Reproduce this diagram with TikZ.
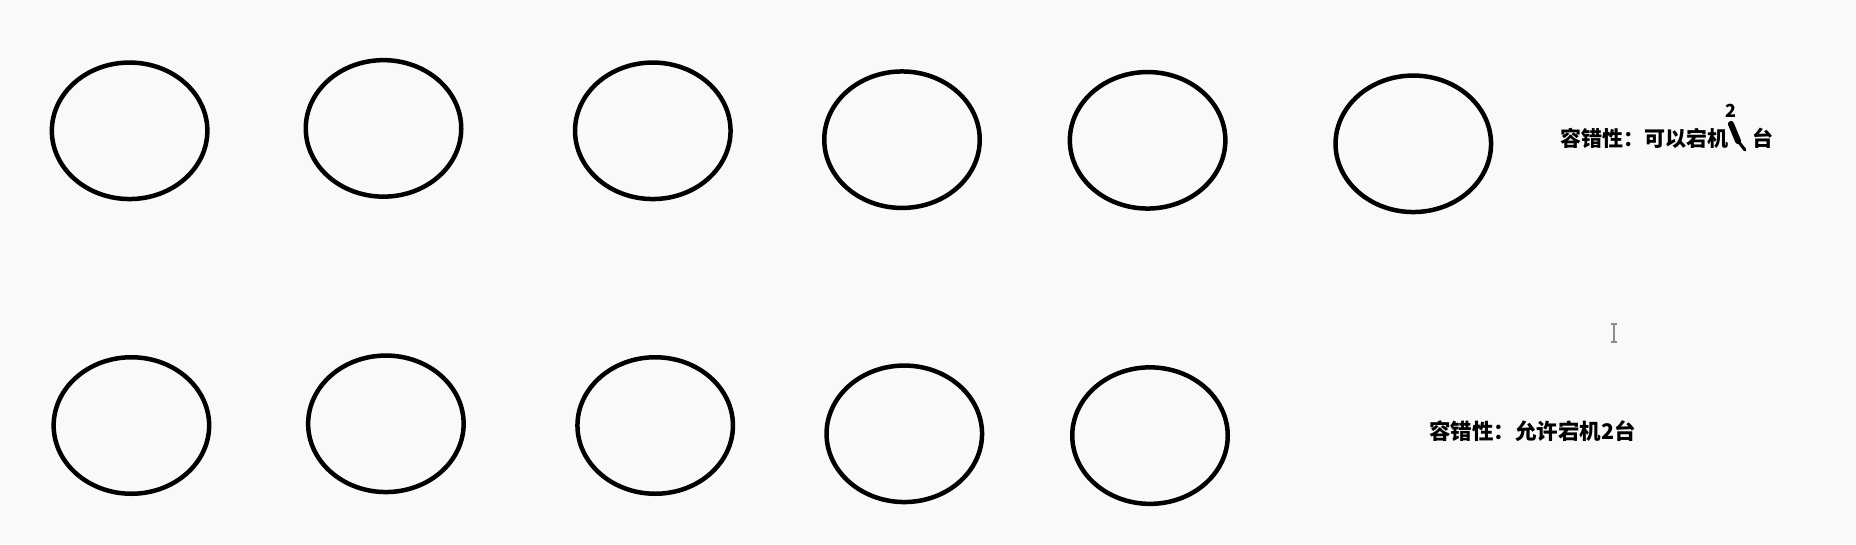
\documentclass[tikz,border=0pt]{standalone}
\usepackage{fontspec}
\newfontfamily\cjk{Noto Sans CJK SC}
\usetikzlibrary{shapes.geometric}
\definecolor{paper}{RGB}{249,249,249}
\definecolor{cursorgray}{RGB}{140,140,140}

\begin{document}
\begin{tikzpicture}[
    x=1pt, y=-1pt,
    every node/.style={font=\cjk\bfseries\fontsize{21}{25}\selectfont},
    server/.style={draw, ellipse, line width=4.5pt, inner sep=0pt,
                   minimum width=155.5pt, minimum height=136.5pt}
]

% Page
\fill[paper] (0,0) rectangle (1856,544);
\useasboundingbox (0,0) rectangle (1856,544);

% Upper row of servers
\node[server] (upa) at ( 129.6, 130.8) {};
\node[server] (upb) at ( 383.5, 128.4) {};
\node[server] (upc) at ( 652.8, 130.8) {};
\node[server] (upd) at ( 902.0, 139.7) {};
\node[server] (upe) at (1147.6, 140.3) {};
\node[server] (upf) at (1413.3, 143.8) {};

% Lower row of servers
\node[server] (lowa) at ( 131.4, 425.5) {};
\node[server] (lowb) at ( 385.9, 423.8) {};
\node[server] (lowc) at ( 655.2, 425.5) {};
\node[server] (lowd) at ( 904.3, 433.8) {};
\node[server] (lowe) at (1150.0, 435.6) {};

% Upper note, corrected by hand
\node[anchor=west, inner sep=0pt] (noteup) at (1560,138) {容错性：可以宕机};
\node[anchor=west, inner sep=0pt] (noteupunit) at (1752,138) {台};
\node[inner sep=0pt, font=\cjk\bfseries\fontsize{18}{20}\selectfont] (noteupnum) at (1731,111) {2};
\draw[line width=6pt, line cap=round] (1731,124) -- (1738,141);
\draw[line width=3pt, line cap=round] (1738,141) -- (1745,150);

% Lower note
\node[anchor=west, inner sep=0pt, font=\cjk\bfseries\fontsize{21.5}{25}\selectfont]
     (notelow) at (1429,431) {容错性：允许宕机2台};

% Text cursor
\draw[cursorgray, line width=1.5pt] (1611,324) -- (1617,324)
      (1614,324) -- (1614,342)
      (1611,342) -- (1617,342);

\end{tikzpicture}
\end{document}
